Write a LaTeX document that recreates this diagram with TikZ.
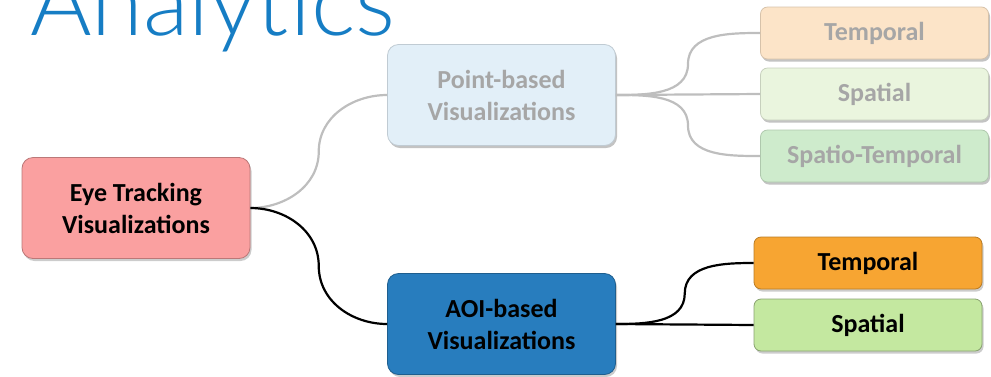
\documentclass[tikz,border=0pt]{standalone}
\usepackage{fontspec}
\setmainfont{Carlito}
\newfontfamily\thinfont{Lato Light}
\usetikzlibrary{calc}
\usetikzlibrary{shadows}

\definecolor{titleblue}{RGB}{22,125,196}
\definecolor{eyepink}{RGB}{250,160,160}
\definecolor{pointblue}{RGB}{226,239,248}
\definecolor{aoiblue}{RGB}{40,125,190}
\definecolor{paleorange}{RGB}{252,228,200}
\definecolor{palegreen}{RGB}{234,245,222}
\definecolor{midgreen}{RGB}{206,235,204}
\definecolor{brightorange}{RGB}{247,165,50}
\definecolor{leafgreen}{RGB}{196,232,160}
\definecolor{fadetext}{RGB}{166,166,166}
\definecolor{fadeline}{RGB}{190,190,190}

\tikzset{
    topicbox/.style={rounded corners=11pt, minimum width=228pt, minimum height=101pt,
        align=center, font=\fontsize{26}{32}\selectfont\bfseries, line width=0.8pt,
        drop shadow={opacity=0.4, shadow xshift=1.5pt, shadow yshift=-2.5pt}},
    leafbox/.style={topicbox, rounded corners=7pt, minimum height=52pt},
    faded/.style={text=fadetext, drop shadow={opacity=0.12, shadow xshift=1.5pt, shadow yshift=-2.5pt}},
    blacklink/.style={draw=black, line width=2.2pt},
    graylink/.style={draw=fadeline, line width=2.2pt},
}

\begin{document}
\begin{tikzpicture}[x=1pt, y=1pt]
    \useasboundingbox (0,0) rectangle (991,-376);

    \node[anchor=base west, text=titleblue, inner sep=0pt, font=\thinfont\fontsize{94}{94}\selectfont]
        (title) at (30,-35) {Analytics};

    % main topics
    \node[topicbox, fill=eyepink, draw=eyepink!75!black]
        (eye) at (136,-208) {Eye Tracking\\Visualizations};
    \node[topicbox, faded, fill=pointblue, draw=pointblue!85!black]
        (point) at (501.5,-95) {Point-based\\Visualizations};
    \node[topicbox, fill=aoiblue, draw=aoiblue!75!black]
        (aoi) at (501.5,-324) {AOI-based\\Visualizations};

    % sub topics
    \node[leafbox, faded, fill=paleorange, draw=paleorange!85!black]
        (ptemp) at (874.5,-33) {Temporal};
    \node[leafbox, faded, fill=palegreen, draw=palegreen!85!black]
        (pspat) at (874.5,-94) {Spatial};
    \node[leafbox, faded, fill=midgreen, draw=midgreen!85!black]
        (pspatemp) at (874.5,-156) {Spatio-Temporal};
    \node[leafbox, fill=brightorange, draw=brightorange!75!black]
        (atemp) at (868,-263) {Temporal};
    \node[leafbox, fill=leafgreen, draw=leafgreen!70!black]
        (aspat) at (868,-325) {Spatial};

    % links
    \draw[graylink] (eye.east) to[out=0,in=-90] ($(eye.east)!.5!(point.west)$) to[out=90,in=180] (point.west);
    \draw[blacklink] (eye.east) to[out=0,in=90] ($(eye.east)!.5!(aoi.west)$) to[out=-90,in=180] (aoi.west);
    \draw[graylink] (point.east) to[out=0,in=-90] ($(point.east)!.5!(ptemp.west)$) to[out=90,in=180] (ptemp.west);
    \draw[graylink] (point.east) -- (pspat.west);
    \draw[graylink] (point.east) to[out=0,in=90] ($(point.east)!.5!(pspatemp.west)$) to[out=-90,in=180] (pspatemp.west);
    \draw[blacklink] (aoi.east) to[out=0,in=-90] ($(aoi.east)!.5!(atemp.west)$) to[out=90,in=180] (atemp.west);
    \draw[blacklink] (aoi.east) -- (aspat.west);
\end{tikzpicture}
\end{document}
